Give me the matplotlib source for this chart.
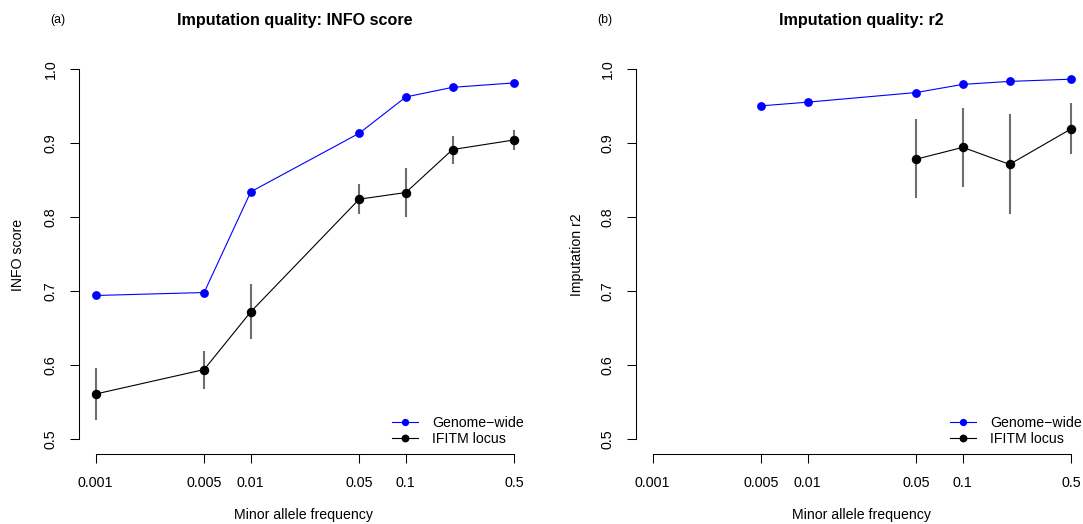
import matplotlib
matplotlib.use("Agg")
import matplotlib.pyplot as plt
import numpy as np

plt.rcParams['font.family'] = ['Liberation Sans', 'DejaVu Sans']

# Minor allele frequency bins
maf = [0.001, 0.005, 0.01, 0.05, 0.1, 0.2, 0.5]
maf_ticks = [0.001, 0.005, 0.01, 0.05, 0.1, 0.5]
maf_tick_labels = ["0.001", "0.005", "0.01", "0.05", "0.1", "0.5"]

# INFO score
info_genome = [0.694, 0.698, 0.834, 0.913, 0.962, 0.975, 0.981]
info_ifitm = [0.561, 0.594, 0.672, 0.824, 0.833, 0.891, 0.904]
info_ifitm_lo = [0.526, 0.568, 0.635, 0.804, 0.800, 0.872, 0.891]
info_ifitm_hi = [0.596, 0.619, 0.709, 0.845, 0.866, 0.909, 0.917]

# Imputation r2 (no values for the two rarest bins)
r2_maf_genome = [0.005, 0.01, 0.05, 0.1, 0.2, 0.5]
r2_genome = [0.950, 0.955, 0.968, 0.979, 0.983, 0.986]
r2_maf_ifitm = [0.05, 0.1, 0.2, 0.5]
r2_ifitm = [0.878, 0.894, 0.871, 0.919]
r2_ifitm_lo = [0.825, 0.841, 0.804, 0.885]
r2_ifitm_hi = [0.932, 0.947, 0.939, 0.954]

yticks = [0.5, 0.6, 0.7, 0.8, 0.9, 1.0]
ytick_labels = ["0.5", "0.6", "0.7", "0.8", "0.9", "1.0"]

W, H = 1083, 524
fig = plt.figure(figsize=(W / 100, H / 100), dpi=100)

ax_w = 452 / W
ax_b = (H - 454) / H
ax_h = 400 / H
axes = [fig.add_axes([79 / W, ax_b, ax_w, ax_h]),
        fig.add_axes([636 / W, ax_b, ax_w, ax_h])]

BLUE = "#0000ff"


def style_axis(ax):
    ax.set_xscale("log")
    ax.set_xlim(10 ** -3.108, 10 ** -0.193)
    ax.set_ylim(0.48, 1.02)
    ax.set_xticks(maf_ticks)
    ax.set_xticklabels(maf_tick_labels)
    ax.xaxis.set_minor_locator(matplotlib.ticker.NullLocator())
    ax.set_yticks(yticks)
    ax.set_yticklabels(ytick_labels, rotation=90, va="center")
    for s in ("top", "right"):
        ax.spines[s].set_visible(False)
    ax.spines["left"].set_bounds(0.5, 1.0)
    ax.spines["bottom"].set_bounds(0.001, 0.5)
    for s in ("left", "bottom"):
        ax.spines[s].set_linewidth(0.75)
    ax.tick_params(axis="both", length=6.5, width=0.75, pad=9,
                   labelsize=10.3, colors="black")
    ax.patch.set_visible(False)


def draw_panel(ax, xg, yg, xi, yi, lo, hi):
    ax.vlines(xi, lo, hi, color="#6e6e6e", lw=1.5, zorder=2)
    ax.plot(xg, yg, "-o", color=BLUE, lw=0.8, ms=5.3, label="Genome\u2212wide",
            zorder=3)
    ax.plot(xi, yi, "-o", color="black", lw=0.8, ms=5.8, label="IFITM locus",
            zorder=3)


draw_panel(axes[0], maf, info_genome, maf, info_ifitm, info_ifitm_lo, info_ifitm_hi)
draw_panel(axes[1], r2_maf_genome, r2_genome, r2_maf_ifitm, r2_ifitm,
           r2_ifitm_lo, r2_ifitm_hi)

for ax in axes:
    style_axis(ax)

# Titles and panel tags
fig.text(295 / W, 1 - 20 / H, "Imputation quality: INFO score", ha="center",
         va="center", fontsize=11.6, fontweight="bold")
fig.text(861 / W, 1 - 20 / H, "Imputation quality: r2", ha="center",
         va="center", fontsize=11.6, fontweight="bold")
fig.text(58 / W, 1 - 20 / H, "(a)", ha="center", va="center", fontsize=8.8)
fig.text(605 / W, 1 - 20 / H, "(b)", ha="center", va="center", fontsize=8.8)

# Axis labels
fig.text(304 / W, 1 - 515 / H, "Minor allele frequency", ha="center",
         va="center", fontsize=10.2)
fig.text(861 / W, 1 - 515 / H, "Minor allele frequency", ha="center",
         va="center", fontsize=10.2)
fig.text(18 / W, 1 - 255 / H, "INFO score", ha="center", va="center",
         rotation=90, fontsize=10.2)
fig.text(577 / W, 1 - 255 / H, "Imputation r2", ha="center", va="center",
         rotation=90, fontsize=10.2)

# Legends
for ax, x0 in ((axes[0], 392), (axes[1], 950)):
    ax.legend(loc="lower left", bbox_to_anchor=(x0 / W, 1 - 446 / H),
              bbox_transform=fig.transFigure, frameon=False, fontsize=10.2,
              handlelength=1.87, handletextpad=0.94, borderpad=0,
              borderaxespad=0, labelspacing=0.15, numpoints=1,
              markerscale=0.8)

fig.savefig("out.png", dpi=100)
